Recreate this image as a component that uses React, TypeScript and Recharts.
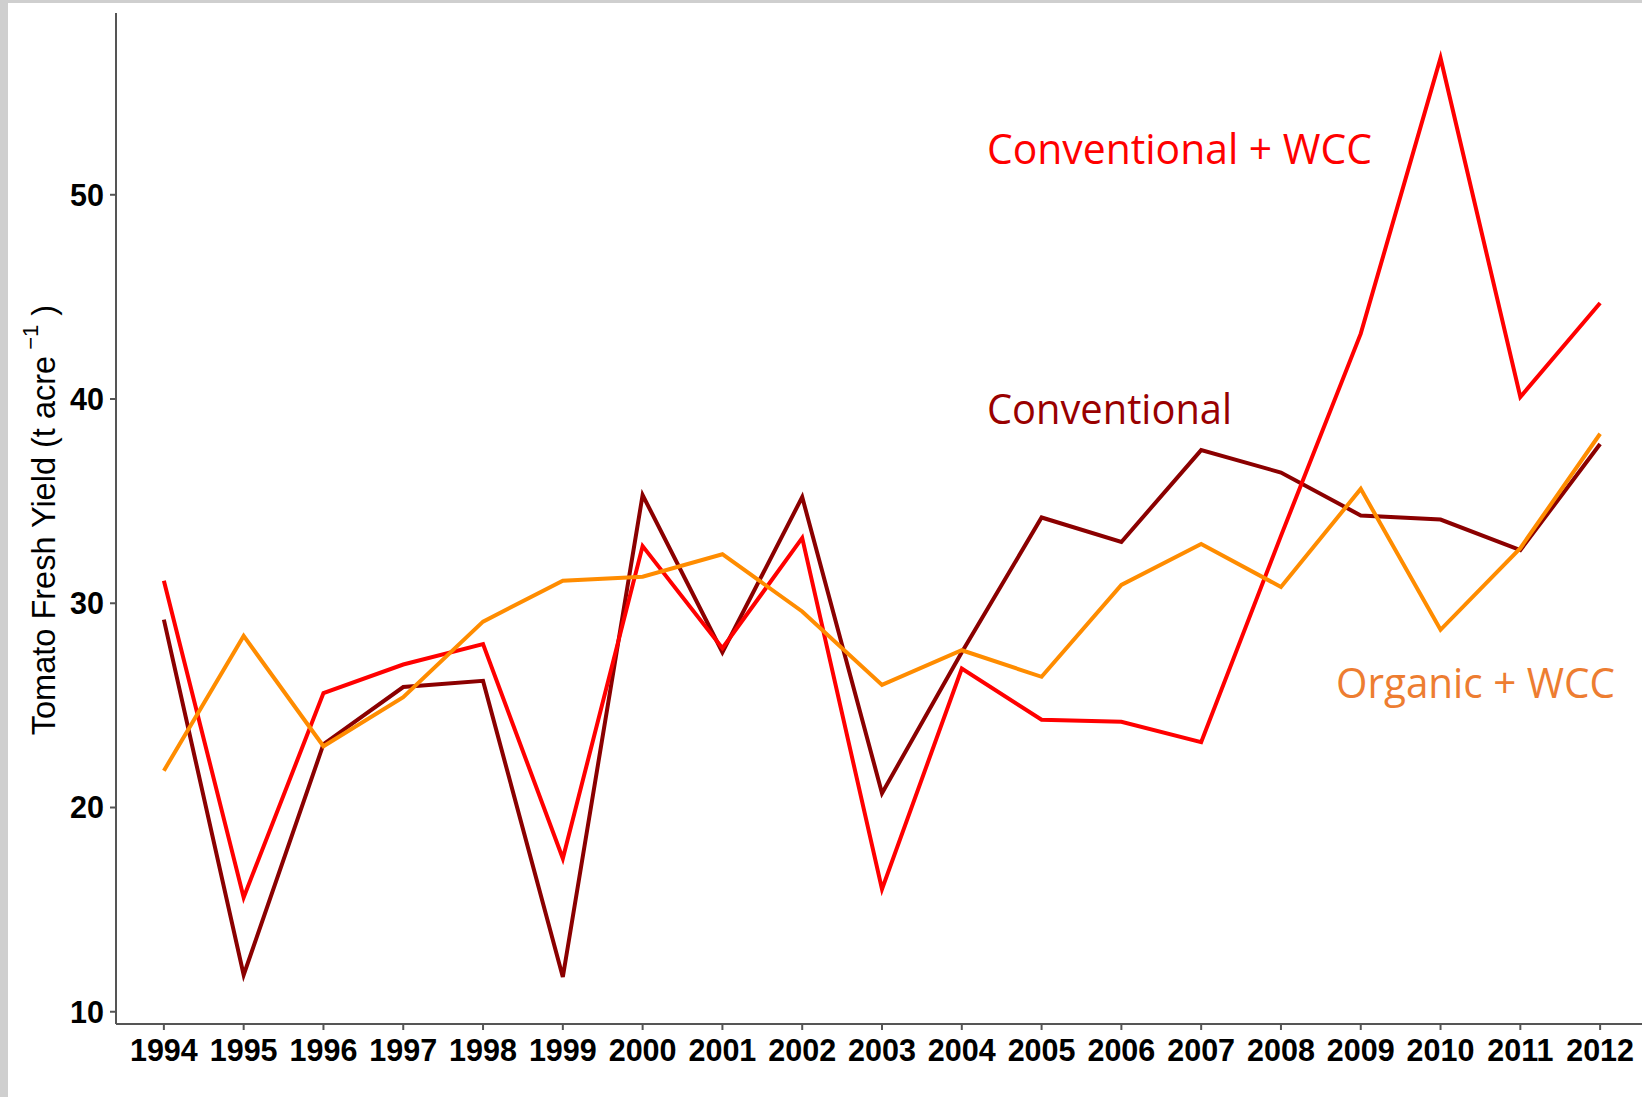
import { LineChart, Line, XAxis, YAxis } from "recharts";

// values (t / acre)
const years = [
    1994, 1995, 1996, 1997, 1998, 1999, 2000, 2001, 2002, 2003, 2004, 2005,
    2006, 2007, 2008, 2009, 2010, 2011, 2012,
];
const conventional = [
    29.2, 11.8, 23.1, 25.9, 26.2, 11.7, 35.3, 27.6, 35.2, 20.7, 27.6, 34.2,
    33.0, 37.5, 36.4, 34.3, 34.1, 32.6, 37.8,
];
const conventionalWcc = [
    31.1, 15.6, 25.6, 27.0, 28.0, 17.5, 32.8, 27.8, 33.2, 16.0, 26.8, 24.3,
    24.2, 23.2, 33.3, 43.2, 56.7, 40.1, 44.7,
];
const organicWcc = [
    21.8, 28.4, 23.0, 25.4, 29.1, 31.1, 31.3, 32.4, 29.6, 26.0, 27.7, 26.4,
    30.9, 32.9, 30.8, 35.6, 28.7, 32.7, 38.3,
];
const yTicks = [10, 20, 30, 40, 50];

const rows = years.map((year, i) => ({
    year,
    conventional: conventional[i],
    conventionalWcc: conventionalWcc[i],
    organicWcc: organicWcc[i],
}));

const AXIS_COLOR = "#555555";
const tickFont = {
    fontFamily: "'Liberation Sans', Arial, sans-serif",
    fontWeight: "bold" as const,
    fill: "#000000",
};
const noteFont = "'Open Sans', 'Noto Sans', sans-serif";

const YTitle = () => (
    <text
        x={44}
        y={520}
        transform="rotate(-90 44 520)"
        textAnchor="middle"
        dominantBaseline="central"
        fontFamily="'Liberation Sans', Arial, sans-serif"
        fontSize={32.5}
        fill="#000000"
    >
        Tomato Fresh Yield (t acre
        <tspan dy={-14} fontSize={22}>
            {" "}−1
        </tspan>
        <tspan dy={14}> )</tspan>
    </text>
);

export default function App() {
    return (
        <div
            style={{
                position: "fixed",
                top: 0,
                left: 0,
                width: 1642,
                height: 1097,
                overflow: "hidden",
                background: "#ffffff",
            }}
        >
            <LineChart
                width={1648}
                height={1097}
                data={rows}
                margin={{ top: 13, right: 0, bottom: 13, left: 0 }}
            >
                <XAxis
                    dataKey="year"
                    type="number"
                    domain={[1993.4, 2012.6]}
                    ticks={years}
                    interval={0}
                    allowDataOverflow
                    height={60}
                    tickSize={6}
                    tickMargin={9}
                    tick={{ ...tickFont, fontSize: 30.5 }}
                    axisLine={{ stroke: AXIS_COLOR, strokeWidth: 2 }}
                    tickLine={{ stroke: AXIS_COLOR, strokeWidth: 2 }}
                />
                <YAxis
                    type="number"
                    domain={[9.4, 58.9]}
                    ticks={yTicks}
                    interval={0}
                    allowDataOverflow
                    width={116}
                    tickSize={6}
                    tickMargin={6}
                    tick={{ ...tickFont, fontSize: 30.5 }}
                    axisLine={{ stroke: AXIS_COLOR, strokeWidth: 2 }}
                    tickLine={{ stroke: AXIS_COLOR, strokeWidth: 2 }}
                    label={{ content: () => <YTitle /> }}
                />
                <Line
                    dataKey="conventional"
                    stroke="#8B0000"
                    strokeWidth={4}
                    dot={false}
                    activeDot={false}
                    isAnimationActive={false}
                />
                <Line
                    dataKey="conventionalWcc"
                    stroke="#FF0000"
                    strokeWidth={4}
                    dot={false}
                    activeDot={false}
                    isAnimationActive={false}
                />
                <Line
                    dataKey="organicWcc"
                    stroke="#FF8C00"
                    strokeWidth={4}
                    dot={false}
                    activeDot={false}
                    isAnimationActive={false}
                />
            </LineChart>

            <svg
                width={1642}
                height={1097}
                style={{ position: "absolute", top: 0, left: 0, pointerEvents: "none" }}
            >
                <text x={987} y={164} fontFamily={noteFont} fontSize={42} fill="#FF0000" textLength={385} lengthAdjust="spacingAndGlyphs">
                    Conventional + WCC
                </text>
                <text x={987} y={424} fontFamily={noteFont} fontSize={42} fill="#990000" textLength={245} lengthAdjust="spacingAndGlyphs">
                    Conventional
                </text>
                <text x={1336} y={698} fontFamily={noteFont} fontSize={42} fill="#ED7D31" textLength={279} lengthAdjust="spacingAndGlyphs">
                    Organic + WCC
                </text>
            </svg>

            {/* grey frame strips from the screenshot */}
            <div style={{ position: "absolute", top: 0, left: 0, width: 1642, height: 3, background: "#CFCFCF" }} />
            <div style={{ position: "absolute", top: 0, left: 0, width: 8, height: 1097, background: "#CFCFCF" }} />
        </div>
    );
}
